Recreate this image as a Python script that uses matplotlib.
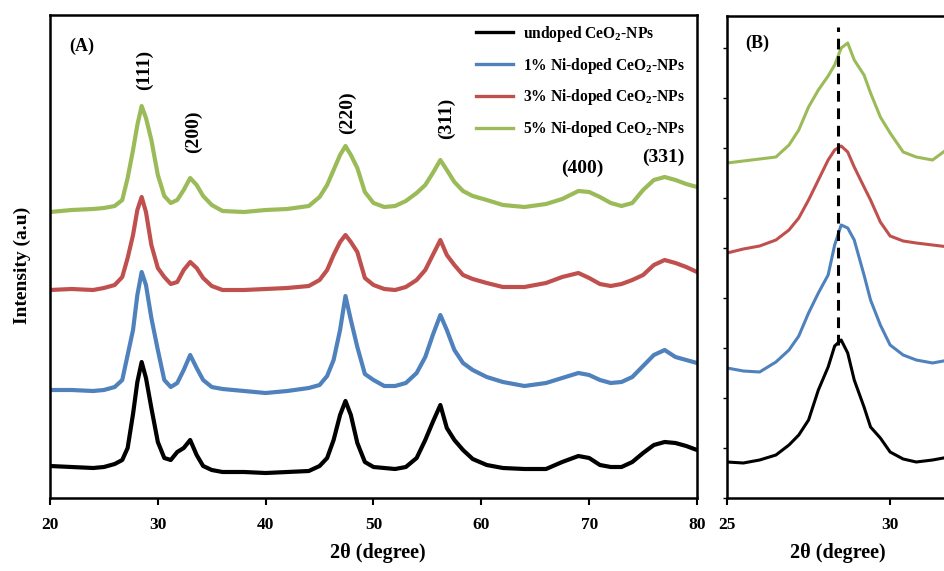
import matplotlib
matplotlib.use("Agg")
import matplotlib.pyplot as plt

plt.rcParams["font.family"] = ["Liberation Serif", "DejaVu Serif"]
plt.rcParams["font.weight"] = "bold"
plt.rcParams["mathtext.fontset"] = "custom"
plt.rcParams["mathtext.rm"] = "Liberation Serif:bold"
plt.rcParams["mathtext.bf"] = "Liberation Serif:bold"

# ---- data (intensity in a.u.) ----
two_theta_a = [20, 22, 24, 25, 26, 26.7, 27.2, 27.7, 28.1, 28.5, 28.9, 29.4, 30.0,
               30.6, 31.2, 31.8, 32.4, 33.0, 33.6, 34.2, 35, 36, 38, 40, 42, 44,
               45, 45.7, 46.3, 46.9, 47.4, 47.9, 48.5, 49.2, 50, 51, 52, 53, 54,
               54.8, 55.5, 56.2, 56.8, 57.5, 58.3, 59.2, 60.5, 62, 64, 66, 67.5,
               69, 70, 71, 72, 73, 74, 75, 76, 77, 78, 79, 80]

undoped_a = [32, 31, 30, 31, 34, 38, 50, 84, 116, 136, 120, 90, 56,
             40, 38, 46, 50, 58, 43, 32, 28, 26, 26, 25, 26, 27,
             32, 40, 58, 83, 97, 83, 55, 36, 31, 30, 29, 31, 40,
             58, 76, 93, 70, 58, 48, 39, 33, 30, 29, 29, 36,
             42, 40, 33, 31, 31, 36, 45, 53, 56, 55, 52, 48]

ni1_a = [108, 108, 107, 108, 111, 118, 143, 168, 203, 226, 213, 180, 148,
         118, 111, 115, 128, 143, 130, 118, 111, 109, 107, 105, 107, 110,
         113, 122, 138, 168, 202, 178, 151, 124, 118, 112, 112, 115, 125,
         141, 163, 183, 168, 148, 135, 128, 121, 116, 112, 115, 120,
         125, 123, 118, 115, 116, 121, 132, 143, 148, 141, 138, 135]

ni3_a = [208, 209, 208, 210, 213, 221, 240, 263, 288, 301, 286, 253, 230,
         221, 214, 216, 228, 236, 230, 220, 212, 208, 208, 209, 210, 212,
         218, 228, 243, 256, 263, 256, 246, 220, 213, 209, 208, 211, 218,
         228, 243, 258, 243, 233, 223, 219, 215, 211, 211, 215, 221,
         225, 220, 214, 212, 214, 218, 223, 233, 238, 235, 231, 226]

ni5_a = [286, 288, 289, 290, 292, 298, 320, 348, 373, 392, 380, 358, 323,
         302, 295, 298, 308, 320, 313, 302, 293, 287, 286, 288, 289, 292,
         301, 313, 328, 343, 352, 343, 330, 306, 295, 291, 292, 297, 305,
         313, 325, 338, 328, 316, 307, 302, 298, 293, 291, 294, 299,
         307, 306, 301, 295, 292, 295, 308, 318, 321, 318, 314, 311]

two_theta_b = [25.0, 25.5, 26.0, 26.5, 26.9, 27.2, 27.5, 27.8, 28.1, 28.3, 28.5,
               28.7, 28.9, 29.2, 29.4, 29.7, 30.0, 30.4, 30.8, 31.3, 31.8, 32.5]

undoped_b = [36, 35, 38, 43, 53, 63, 78, 108, 131, 152, 158,
             145, 118, 91, 71, 60, 46, 39, 36, 38, 41, 40]
ni1_b = [130, 127, 126, 136, 148, 162, 185, 205, 223, 253, 273,
         270, 258, 223, 198, 173, 153, 143, 138, 135, 138, 138]
ni3_b = [245, 249, 252, 258, 268, 280, 298, 318, 338, 348, 352,
         346, 331, 311, 298, 276, 262, 257, 255, 253, 251, 251]
ni5_b = [335, 337, 339, 341, 353, 368, 391, 408, 422, 433, 450,
         455, 438, 423, 405, 381, 365, 346, 341, 338, 350, 353]

labels = ["undoped CeO$_2$-NPs", "1% Ni-doped CeO$_2$-NPs",
          "3% Ni-doped CeO$_2$-NPs", "5% Ni-doped CeO$_2$-NPs"]
colors = ["#000000", "#4f81bd", "#c0504d", "#9bbb59"]

peak_names = ["(111)", "(200)", "(220)", "(311)", "(400)", "(331)"]
peak_pos = [28.8, 33.3, 47.55, 56.8, 69.4, 76.9]
peak_lab_y = [428, 366, 385, 380, 330, 341]
peak_rot = [90, 90, 90, 90, 0, 0]

shift_line_x = 28.4

# ---- figure ----
fig = plt.figure(figsize=(9.45, 5.71), dpi=100)
ax_a = fig.add_axes([50 / 945, 1 - 498 / 571, 647 / 945, 483 / 571])
ax_b = fig.add_axes([727 / 945, 1 - 498 / 571, 261 / 945, 482 / 571])

series_a = [undoped_a, ni1_a, ni3_a, ni5_a]
series_b = [undoped_b, ni1_b, ni3_b, ni5_b]

for ys, c, lab in zip(series_a, colors, labels):
    ax_a.plot(two_theta_a, ys, color=c, lw=3.0, label=lab, solid_joinstyle="round")
for ys, c in zip(series_b, colors):
    ax_b.plot(two_theta_b, ys, color=c, lw=2.2, solid_joinstyle="round")

ax_a.set_xlim(20, 80)
ax_a.set_ylim(0, 483)
ax_a.set_xticks([20, 30, 40, 50, 60, 70, 80])
ax_a.set_yticks([])
ax_a.tick_params(axis="x", direction="out", length=5, width=1.5, pad=9, labelsize=12.5)

ax_b.set_xlim(25, 33)
ax_b.set_ylim(0, 482)
ax_b.set_xticks([25, 30])
ax_b.set_yticks([50 * i for i in range(10)])
ax_b.set_yticklabels([])
ax_b.tick_params(axis="x", direction="out", length=5, width=1.5, pad=9, labelsize=12.5)
ax_b.tick_params(axis="y", direction="out", length=3, width=1)
ax_b.spines["right"].set_visible(False)

for ax in (ax_a, ax_b):
    for s in ax.spines.values():
        s.set_linewidth(1.8)
    for t in ax.get_xticklabels():
        t.set_fontweight("bold")

ax_b.plot([shift_line_x, shift_line_x], [153, 471], color="black", lw=2.2,
          linestyle=(0, (3.5, 2.2)))

for name, px, py, rot in zip(peak_names, peak_pos, peak_lab_y, peak_rot):
    ax_a.text(px, py, name, rotation=rot, ha="center", va="center",
              fontsize=14, fontweight="bold")

ax_a.text(0.049, 0.936, "(A)", transform=ax_a.transAxes, ha="center", va="center",
          fontsize=13, fontweight="bold")
ax_b.text(25.93, 455, "(B)", ha="center", va="center", fontsize=13, fontweight="bold")

leg = ax_a.legend(loc="upper left", bbox_to_anchor=(0.658, 0.982), frameon=False,
                  fontsize=11.2, handlelength=2.4, handletextpad=0.65,
                  labelspacing=0.76, borderpad=0, borderaxespad=0)
for line in leg.get_lines():
    line.set_linewidth(2.4)
for t in leg.get_texts():
    t.set_fontweight("bold")

fig.text(22 / 945, 1 - 265 / 571, "Intensity (a.u)", rotation=90, ha="center",
         va="center", fontsize=14, fontweight="bold")
fig.text(378 / 945, 1 - 553 / 571, "2θ (degree)", ha="center", va="center",
         fontsize=14.5, fontweight="bold")
fig.text(838 / 945, 1 - 553 / 571, "2θ (degree)", ha="center", va="center",
         fontsize=14.5, fontweight="bold")

fig.savefig("out.png", dpi=100)
